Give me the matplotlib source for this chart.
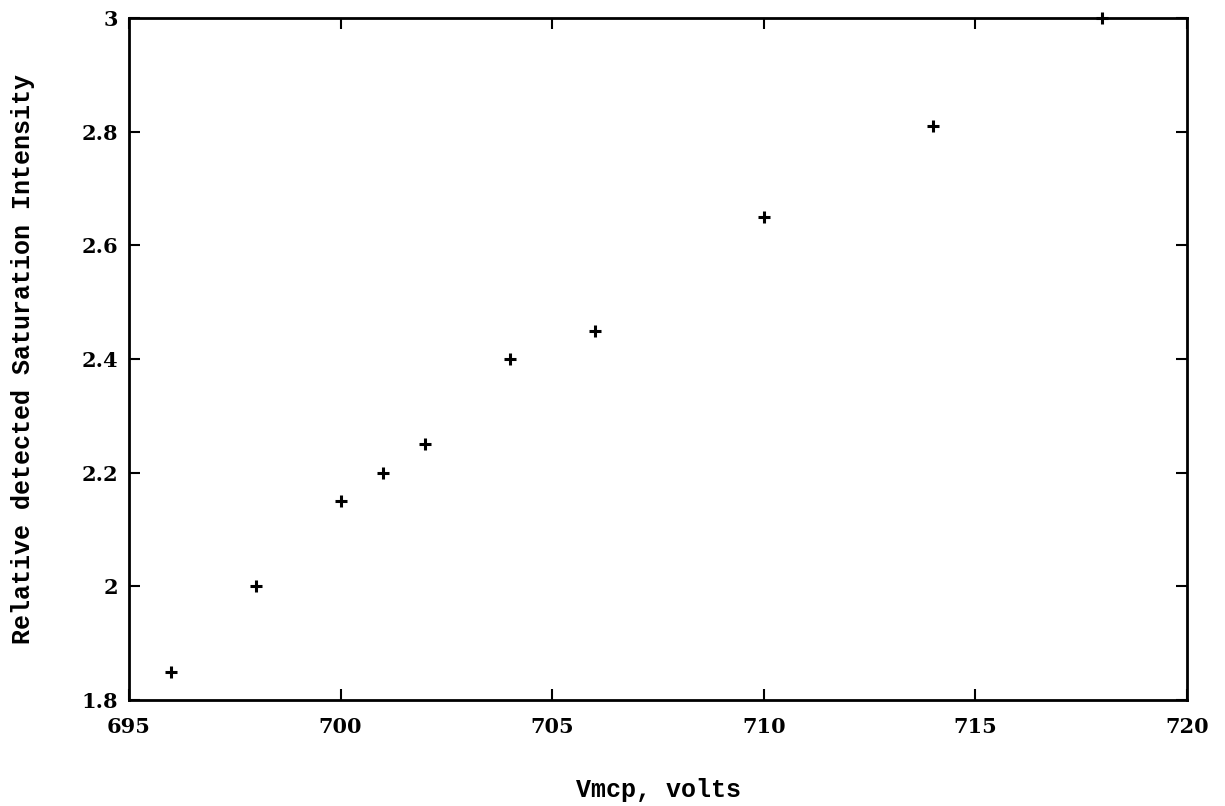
import matplotlib
matplotlib.use("Agg")
import matplotlib.pyplot as plt
import numpy as np

# data
vmcp = [696, 698, 700, 701, 702, 704, 706, 710, 714, 718]
sat_intensity = [1.85, 2.0, 2.15, 2.2, 2.25, 2.4, 2.45, 2.65, 2.81, 3.0]

xticks = [695, 700, 705, 710, 715, 720]
yticks = [1.8, 2.0, 2.2, 2.4, 2.6, 2.8, 3.0]
ytick_labels = ["1.8", "2", "2.2", "2.4", "2.6", "2.8", "3"]

plt.rcParams['font.family'] = ['DejaVu Serif']
plt.rcParams['font.weight'] = 'bold'

fig = plt.figure(figsize=(12.25, 8.06), dpi=100)
ax = fig.add_axes([0.1053, 0.1315, 0.8637, 0.8462])

ax.plot(vmcp, sat_intensity, linestyle='none', marker='+', color='black',
        markersize=8, markeredgewidth=2.2, clip_on=False)

ax.set_xlim(695, 720)
ax.set_ylim(1.8, 3.0)
ax.set_xticks(xticks)
ax.set_yticks(yticks)
ax.set_yticklabels(ytick_labels)

ax.tick_params(direction='in', length=8, width=1.5, top=True, right=True,
               labelsize=15)
ax.tick_params(axis='x', pad=12)
ax.tick_params(axis='y', pad=8)
for sp in ax.spines.values():
    sp.set_linewidth(2)

ax.set_xlabel("Vmcp, volts", fontsize=18, fontweight='bold',
              family='Liberation Mono', labelpad=30)
ax.set_ylabel("Relative detected Saturation Intensity", fontsize=18,
              fontweight='bold', family='Liberation Mono', labelpad=33)

fig.savefig("out.png", dpi=100)
